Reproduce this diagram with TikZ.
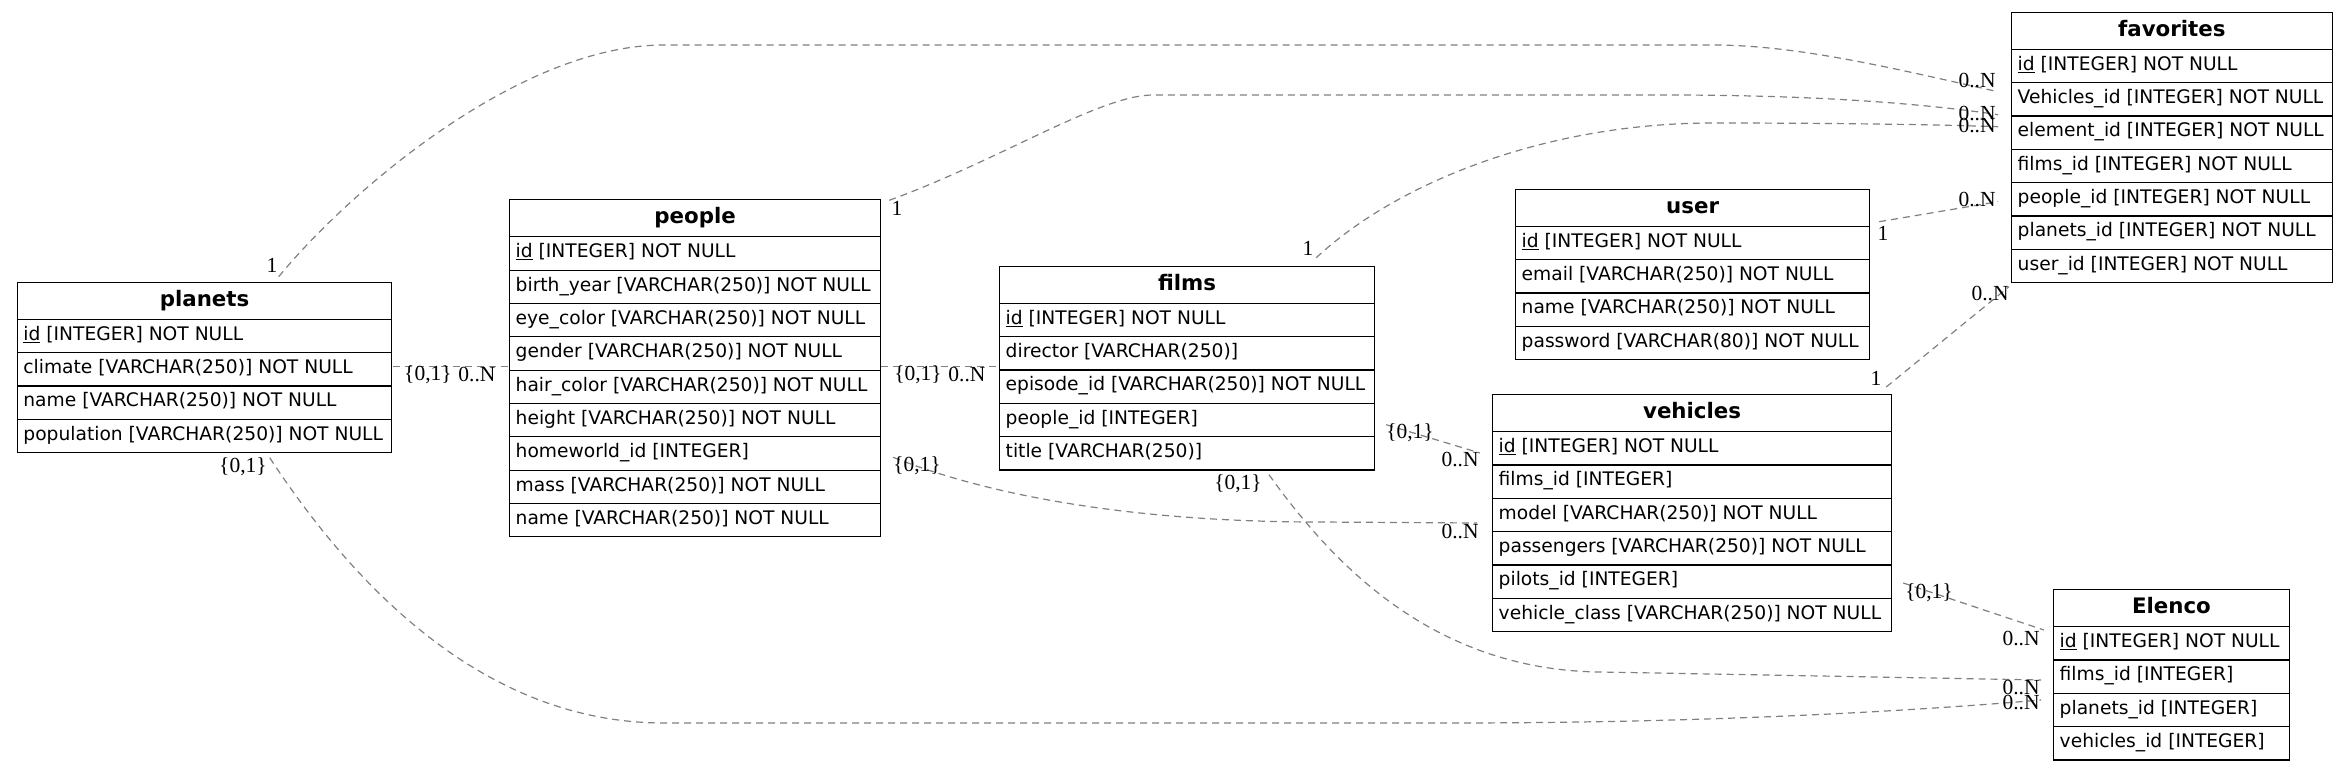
\documentclass[tikz,border=0pt]{standalone}
\usepackage{fontspec}
\setmainfont{DejaVu Sans}
\newfontfamily\lblfont{Liberation Serif}
\usetikzlibrary{calc}
\definecolor{relgray}{RGB}{128,128,128}
\tikzset{
  hdr/.style={draw=black, line width=1.2pt, anchor=north west, minimum height=37pt, inner sep=0pt, text height=15.6pt, text depth=4.4pt, font=\fontsize{21.33}{24}\selectfont\bfseries},
  rowbox/.style={draw=black, line width=1.2pt, anchor=north west, minimum height=33.33pt, inner sep=0pt},
  rowtxt/.style={anchor=base west, inner sep=0pt, font=\fontsize{18.67}{22}\selectfont},
  rel/.style={draw=relgray, line width=1.2pt, dash pattern=on 7pt off 5pt},
  card/.style={inner sep=0pt, font=\lblfont\fontsize{21.5}{24}\selectfont},
}
\newcommand{\ertab}[6]{%
  \node[hdr, minimum width=#4pt] (#1) at (#2,#3) {#5};
  \foreach \rr [count=\ii] in {#6} {
    \node[rowbox, minimum width=#4pt] (#1-\ii) at ($(#1.north west)+(0,{37+(\ii-1)*33.33})$) {};
    \node[rowtxt] at ($(#1-\ii.north west)+(6.5,21.5)$) {\rr};
  }
}
\begin{document}
\begin{tikzpicture}[x=1pt,y=-1pt]
\useasboundingbox (0,0) rectangle (2343,770);
% tables
\ertab{planets}{16.7}{281.7}{374.5}{planets}{{\underline{id} [INTEGER] NOT NULL},{climate [VARCHAR(250)] NOT NULL},{name [VARCHAR(250)] NOT NULL},{population [VARCHAR(250)] NOT NULL}}
\ertab{people}{509}{199.3}{371}{people}{{\underline{id} [INTEGER] NOT NULL},{birth\_year [VARCHAR(250)] NOT NULL},{eye\_color [VARCHAR(250)] NOT NULL},{gender [VARCHAR(250)] NOT NULL},{hair\_color [VARCHAR(250)] NOT NULL},{height [VARCHAR(250)] NOT NULL},{homeworld\_id [INTEGER]},{mass [VARCHAR(250)] NOT NULL},{name [VARCHAR(250)] NOT NULL}}
\ertab{films}{999}{265.7}{375}{films}{{\underline{id} [INTEGER] NOT NULL},{director [VARCHAR(250)]},{episode\_id [VARCHAR(250)] NOT NULL},{people\_id [INTEGER]},{title [VARCHAR(250)]}}
\ertab{user}{1515}{188.7}{354}{user}{{\underline{id} [INTEGER] NOT NULL},{email [VARCHAR(250)] NOT NULL},{name [VARCHAR(250)] NOT NULL},{password [VARCHAR(80)] NOT NULL}}
\ertab{favorites}{2011}{11.7}{320.5}{favorites}{{\underline{id} [INTEGER] NOT NULL},{Vehicles\_id [INTEGER] NOT NULL},{element\_id [INTEGER] NOT NULL},{films\_id [INTEGER] NOT NULL},{people\_id [INTEGER] NOT NULL},{planets\_id [INTEGER] NOT NULL},{user\_id [INTEGER] NOT NULL}}
\ertab{vehicles}{1492}{394}{399}{vehicles}{{\underline{id} [INTEGER] NOT NULL},{films\_id [INTEGER]},{model [VARCHAR(250)] NOT NULL},{passengers [VARCHAR(250)] NOT NULL},{pilots\_id [INTEGER]},{vehicle\_class [VARCHAR(250)] NOT NULL}}
\ertab{Elenco}{2053}{589}{235.7}{Elenco}{{\underline{id} [INTEGER] NOT NULL},{films\_id [INTEGER]},{planets\_id [INTEGER]},{vehicles\_id [INTEGER]}}
% connectors
\draw[rel] ($(planets.north west)+(262,-5)$) .. controls (350,190) and (520,45) .. (664,45) -- (1713,45) .. controls (1800,45) and (1900,70) .. ($(favorites.north west)+(-13,80)$);
\draw[rel] ($(people.north east)+(8,1)$) .. controls (1000,160) and (1100,95) .. (1153,95) -- (1667,95) .. controls (1780,95) and (1900,100) .. ($(favorites.north west)+(-13,103)$);
\draw[rel] ($(films.north east)+(-59,-8)$) .. controls (1400,180) and (1550,123) .. (1713,123) .. controls (1850,123) and (1950,125) .. ($(favorites.north west)+(-13,115)$);
\draw[rel] ($(user.north east)+(9,33)$) -- ($(favorites.north west)+(-13,190)$);
\draw[rel] ($(vehicles.north east)+(-6,-7)$) -- ($(favorites.north west)+(-2,275)$);
\draw[rel] ($(planets.north east)+(1,85)$) -- ($(people.north west)+(0,167.4)$);
\draw[rel] ($(people.north east)+(0,167.4)$) -- ($(films.north west)+(0,101)$);
\draw[rel] ($(people.north east)+(12,258)$) .. controls (1000,500) and (1150,522) .. (1319,522) -- ($(vehicles.north west)+(-15,129)$);
\draw[rel] ($(films.north east)+(11,159)$) -- ($(vehicles.north west)+(-12,59)$);
\draw[rel] ($(films.north west)+(270,209)$) .. controls (1330,560) and (1430,670) .. (1600,672) -- ($(Elenco.north west)+(-12,91)$);
\draw[rel] ($(planets.north west)+(253,176)$) .. controls (350,580) and (480,723) .. (664,723) -- (1450,723) .. controls (1700,723) and (1900,712) .. ($(Elenco.north west)+(-12,111)$);
\draw[rel] ($(vehicles.north east)+(11,189)$) -- ($(Elenco.north west)+(-9,41)$);
% cardinality labels
\node[card] (c1a) at (272,265) {1};
\node[card] (c1b) at (1977,81) {0..N};
\node[card] (c2a) at (897,208) {1};
\node[card] (c2b) at (1977,114) {0..N};
\node[card] (c3a) at (1308,248) {1};
\node[card] (c3b) at (1977,126) {0..N};
\node[card] (c4a) at (1883,233) {1};
\node[card] (c4b) at (1977,200) {0..N};
\node[card] (c5a) at (1876,378) {1};
\node[card] (c5b) at (1990,294) {0..N};
\node[card] (c6a) at (428,375) {\{0,1\}};
\node[card] (c6b) at (477,375) {0..N};
\node[card] (c7a) at (918,375) {\{0,1\}};
\node[card] (c7b) at (967,375) {0..N};
\node[card] (c8a) at (917,466) {\{0,1\}};
\node[card] (c8b) at (1460,531) {0..N};
\node[card] (c9a) at (1410,433) {\{0,1\}};
\node[card] (c9b) at (1460,460) {0..N};
\node[card] (c10a) at (1238,484) {\{0,1\}};
\node[card] (c10b) at (2021,687) {0..N};
\node[card] (c11a) at (243,467) {\{0,1\}};
\node[card] (c11b) at (2021,702) {0..N};
\node[card] (c12a) at (1929,593) {\{0,1\}};
\node[card] (c12b) at (2021,638) {0..N};
\end{tikzpicture}
\end{document}
